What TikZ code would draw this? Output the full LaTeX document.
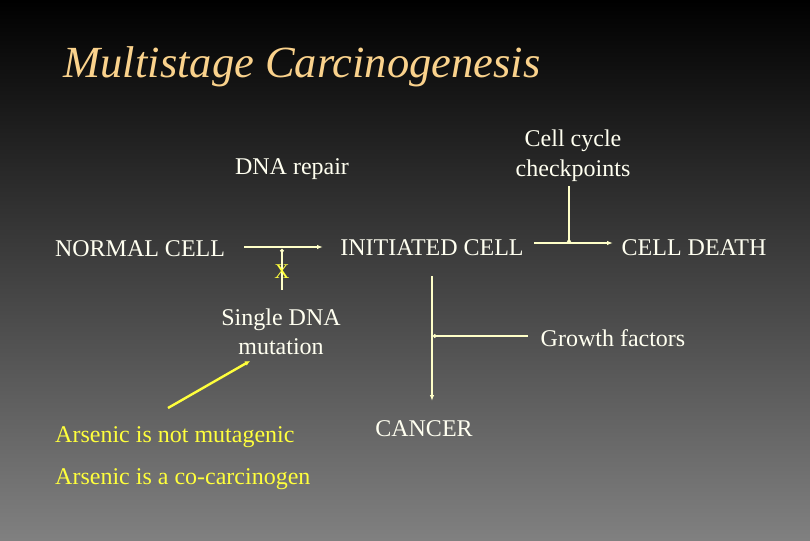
\documentclass[tikz,border=0pt]{standalone}
\usepackage{fontspec}
\setmainfont{Liberation Serif}
\usetikzlibrary{arrows.meta}
\definecolor{titlecol}{RGB}{250,210,140}
\definecolor{txtcol}{RGB}{255,255,240}
\definecolor{linecol}{RGB}{255,255,200}
\definecolor{yel}{RGB}{255,255,60}
\definecolor{bgtop}{RGB}{0,0,0}
\definecolor{bgbot}{RGB}{128,128,128}
\tikzset{
  lbl/.style={text=txtcol, font=\fontsize{24}{29}\selectfont, inner sep=0pt, anchor=base, align=center},
  ylbl/.style={text=yel, font=\fontsize{24}{29}\selectfont, inner sep=0pt, anchor=base west},
  conn/.style={draw=linecol, line width=1.4pt},
  arr/.style={conn, -{Latex[length=6pt,width=4.5pt]}},
  dotend/.style={conn, -{Circle[length=3.5pt]}},
  yarr/.style={draw=yel, line width=2.4pt, -{Latex[length=5pt,width=5pt]}}
}
\begin{document}
\begin{tikzpicture}[x=1pt,y=-1pt]
\shade[top color=bgtop, bottom color=bgbot] (0,0) rectangle (810,540);
\useasboundingbox (0,0) rectangle (810,540);
\node[text=titlecol, font=\fontsize{44.5}{50}\selectfont\itshape, inner sep=0pt, anchor=base] (title) at (302,78) {Multistage Carcinogenesis};

\node[lbl] (repair) at (292,175) {DNA repair};
\node[lbl] (cc) at (573,176) {Cell cycle\\checkpoints};
\node[lbl] (normal) at (140,256) {NORMAL CELL};
\node[lbl] (initiated) at (432,255) {INITIATED CELL};
\node[lbl] (death) at (694,255) {CELL DEATH};
\node[lbl] (mut) at (281,354) {Single DNA\\mutation};
\node[lbl] (growth) at (613,346) {Growth factors};
\node[lbl] (cancer) at (424,436) {CANCER};
\node[ylbl] (notmut) at (55,442) {Arsenic is not mutagenic};
\node[ylbl] (cocarc) at (55,484) {Arsenic is a co-carcinogen};

% normal -> initiated
\coordinate (a1) at (244,247);
\coordinate (a2) at (323,247);
\draw[arr] (a1) -- (a2);
% blocked mutation
\coordinate (j1) at (282,249);
\coordinate (j1b) at (282,290);
\draw[dotend] (j1b) -- (j1);
\node[text=yel, font=\fontsize{21}{24}\selectfont, inner sep=0pt, anchor=base] (xmark) at (282,278) {X};
% initiated -> death with checkpoints
\coordinate (b1) at (534,243);
\coordinate (b2) at (613,243);
\coordinate (j2) at (569,243);
\coordinate (j2t) at (569,186);
\draw[arr] (b1) -- (b2);
\draw[dotend] (j2t) -- (j2);
% initiated -> cancer with growth factors
\coordinate (c1) at (432,276);
\coordinate (c2) at (432,401);
\coordinate (j3) at (433,336);
\coordinate (j3r) at (528,336);
\draw[arr] (c1) -- (c2);
\draw[dotend] (j3r) -- (j3);
% arsenic arrow
\coordinate (d1) at (168,408);
\coordinate (d2) at (250,361);
\draw[yarr] (d1) -- (d2);
\end{tikzpicture}
\end{document}
